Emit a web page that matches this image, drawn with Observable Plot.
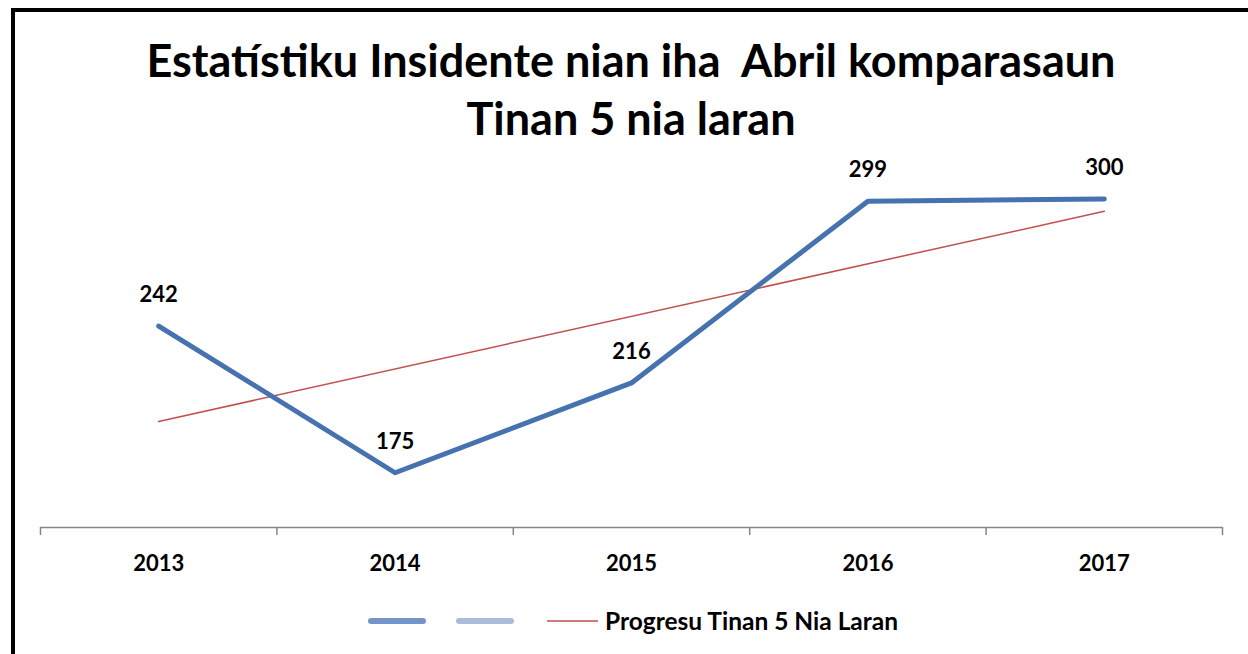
<!DOCTYPE html>
<html><head><meta charset="utf-8">
<script src="https://cdn.jsdelivr.net/npm/d3@7"></script>
<script src="https://cdn.jsdelivr.net/npm/@observablehq/plot@0.6"></script>
<style>
html,body{margin:0;padding:0;background:#fff;width:1248px;height:654px;overflow:hidden;font-family:Lato,"Open Sans",sans-serif;}
#wrap{position:relative;width:1248px;height:654px;}
#border{position:absolute;left:11px;top:8px;width:1300px;height:700px;border:4px solid #000;box-sizing:border-box;}
#title{position:absolute;left:0;top:31px;width:1262px;text-align:center;font-weight:bold;font-size:45px;line-height:58px;color:#000;}
#chart{position:absolute;left:0;top:0;}
#legend{position:absolute;left:0;top:606px;width:1248px;height:30px;}
</style></head>
<body><div id="wrap"><div id="border"></div><div id="chart"></div>
<div id="title">Estatístiku Insidente nian iha&nbsp; Abril komparasaun<br>Tinan 5 nia laran</div>
<svg id="legend" width="1248" height="30"></svg></div>
<script>
const years = [2013, 2014, 2015, 2016, 2017];
const incidents = [242, 175, 216, 299, 300];
const seriesLabel = "Progresu Tinan 5 Nia Laran";

const data = years.map((y, i) => ({year: y, value: incidents[i]}));
const bounds = years.map(y => y - 0.5).concat([years[years.length - 1] + 0.5]);
const font = "Lato, 'Open Sans', sans-serif";

const plot = Plot.plot({
  width: 1248, height: 654,
  marginLeft: 40, marginRight: 26, marginTop: 89, marginBottom: 127,
  style: {fontFamily: font, background: "transparent", overflow: "visible"},
  x: {domain: [bounds[0], bounds[bounds.length - 1]], axis: null},
  y: {domain: [150, 350], axis: null},
  marks: [
    Plot.ruleY([150], {stroke: "#868686", strokeWidth: 1.5}),
    Plot.axisX({ticks: bounds, tickSize: 8, tickFormat: () => "", label: null, stroke: "#868686", strokeWidth: 1.5}),
    Plot.axisX({ticks: years, tickSize: 0, tickPadding: 28, label: null, tickFormat: d => String(d), fontSize: 22, fontWeight: "bold", fill: "#000"}),
    Plot.linearRegressionY(data, {x: "year", y: "value", stroke: "#C0504D", strokeWidth: 1.5, ci: 0}),
    Plot.line(data, {x: "year", y: "value", stroke: "#4672B0", strokeWidth: 5, strokeLinecap: "round", strokeLinejoin: "round"}),
    Plot.text(data, {x: "year", y: "value", text: d => String(d.value), dy: -31, fontSize: 22, fontWeight: "bold", fill: "#000"})
  ]
});
document.getElementById("chart").appendChild(plot);

// legend
const lg = d3.select("#legend");
lg.append("line").attr("x1", 371).attr("x2", 423).attr("y1", 15).attr("y2", 15)
  .attr("stroke", "#7394C8").attr("stroke-width", 6).attr("stroke-linecap", "round");
lg.append("line").attr("x1", 459).attr("x2", 511).attr("y1", 15).attr("y2", 15)
  .attr("stroke", "#A9BCDC").attr("stroke-width", 6).attr("stroke-linecap", "round");
lg.append("line").attr("x1", 547).attr("x2", 598).attr("y1", 15).attr("y2", 15)
  .attr("stroke", "#C0504D").attr("stroke-width", 1.5);
lg.append("text").attr("x", 605).attr("y", 15).attr("dy", "0.36em")
  .attr("font-family", font).attr("font-size", 24.5).attr("font-weight", "bold").attr("fill", "#000")
  .text(seriesLabel);
</script></body></html>
